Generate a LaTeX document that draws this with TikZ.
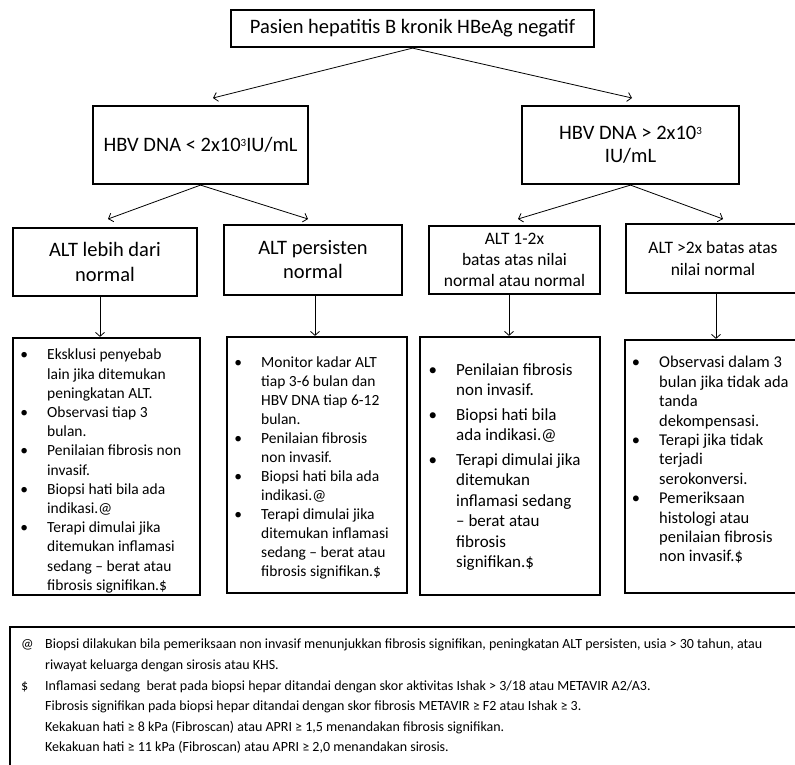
\documentclass[tikz,border=0pt]{standalone}
\usepackage{fontspec}
\setmainfont{Carlito}
\usetikzlibrary{arrows.meta}
\newcommand\itm{\llap{\textbullet\hspace{19pt}}}
\newcommand\ftm[1]{\llap{\makebox[24pt][l]{#1}}}
\newcommand\supthree{\raisebox{0.55ex}{\fontsize{11}{11}\selectfont 3}}
\begin{document}
\begin{tikzpicture}[x=1pt,y=-1pt,
  box/.style={draw, line width=2.2pt, inner sep=0pt, align=center, fill=white},
  arr/.style={-{Straight Barb[length=4pt,width=9pt]}, line width=0.8pt},
  bigtxt/.style={font=\fontsize{20.5}{25}\selectfont},
  list/.style={anchor=west, align=left, inner sep=0pt}
]
\useasboundingbox (0,0) rectangle (795,764);
\fill[white] (0,0) rectangle (795,764);

% level 1
\node[box, bigtxt, minimum width=363pt, minimum height=37pt] (top) at (412.5,28.5) {Pasien hepatitis B kronik HBeAg negatif};

% level 2
\node[box, bigtxt, minimum width=215pt, minimum height=78pt] (hbvL) at (200.5,145) {HBV DNA < 2x10\supthree IU/mL};
\node[box, font=\fontsize{20.5}{23}\selectfont, minimum width=217pt, minimum height=78pt] (hbvR) at (630.5,145) {HBV DNA > 2x10\supthree\\IU/mL};

% level 3
\node[box, bigtxt, minimum width=184pt, minimum height=68pt] (altA) at (105,262) {ALT lebih dari\\normal};
\node[box, font=\fontsize{20.5}{24}\selectfont, minimum width=178pt, minimum height=70pt] (altB) at (313,260) {ALT persisten\\normal};
\node[box, font=\fontsize{17.5}{21}\selectfont, minimum width=171pt, minimum height=68pt] (altC) at (514.5,260) {ALT 1-2x\\batas atas nilai\\normal atau normal};
\node[box, font=\fontsize{17.5}{22}\selectfont, minimum width=174pt, minimum height=69pt] (altD) at (713,258.5) {ALT >2x batas atas\\nilai normal};

% level 4 boxes
\node[box, minimum width=187pt, minimum height=257pt] (bA) at (106.5,466.5) {};
\node[box, minimum width=180pt, minimum height=256pt] (bB) at (317,465) {};
\node[box, minimum width=180pt, minimum height=258pt] (bC) at (510,466) {};
\node[box, minimum width=175pt, minimum height=253pt] (bD) at (712.5,466.5) {};

\node[list, font=\fontsize{15.5}{19.2}\selectfont] (tA) at (47,471) {\itm Eksklusi penyebab\\ lain jika ditemukan\\ peningkatan ALT.\\ \itm Observasi tiap 3\\ bulan.\\ \itm Penilaian fibrosis non\\ invasif.\\ \itm Biopsi hati bila ada\\ indikasi.@\\ \itm Terapi dimulai jika\\ ditemukan inflamasi\\ sedang – berat atau\\ fibrosis signifikan.\$};

\node[list, font=\fontsize{15.5}{19}\selectfont] (tB) at (261,467.5) {\itm Monitor kadar ALT\\ tiap 3-6 bulan dan\\ HBV DNA tiap 6-12\\ bulan.\\ \itm Penilaian fibrosis\\ non invasif.\\ \itm Biopsi hati bila ada\\ indikasi.@\\ \itm Terapi dimulai jika\\ ditemukan inflamasi\\ sedang – berat atau\\ fibrosis signifikan.\$};

\node[list, font=\fontsize{17}{20.5}\selectfont] (tC) at (456,467) {\itm Penilaian fibrosis\\ non invasif.\\[4pt] \itm Biopsi hati bila\\ ada indikasi.@\\[4pt] \itm Terapi dimulai jika\\ ditemukan\\ inflamasi sedang\\ – berat atau\\ fibrosis\\ signifikan.\$};

\node[list, font=\fontsize{16.5}{19.4}\selectfont] (tD) at (659,460) {\itm Observasi dalam 3\\ bulan jika tidak ada\\ tanda\\ dekompensasi.\\ \itm Terapi jika tidak\\ terjadi\\ serokonversi.\\ \itm Pemeriksaan\\ histologi atau\\ penilaian fibrosis\\ non invasif.\$};

% footnote
\node[box, anchor=north west, minimum width=801pt, minimum height=170pt] (fn) at (9,626) {};
\node[list, font=\fontsize{14}{20.6}\selectfont] (fnt) at (45,696.5) {\ftm{@}Biopsi dilakukan bila pemeriksaan non invasif menunjukkan fibrosis signifikan, peningkatan ALT persisten, usia > 30 tahun, atau\\ riwayat keluarga dengan sirosis atau KHS.\\ \ftm{\$}Inflamasi sedang\ \ berat pada biopsi hepar ditandai dengan skor aktivitas Ishak > 3/18 atau METAVIR A2/A3.\\ Fibrosis signifikan pada biopsi hepar ditandai dengan skor fibrosis METAVIR ≥ F2 atau Ishak ≥ 3.\\ Kekakuan hati ≥ 8 kPa (Fibroscan) atau APRI ≥ 1,5 menandakan fibrosis signifikan.\\ Kekakuan hati ≥ 11 kPa (Fibroscan) atau APRI ≥ 2,0 menandakan sirosis.};

% connectors
\coordinate (t1) at (213,98);
\coordinate (t2) at (632,98);
\coordinate (l1) at (108,219);
\coordinate (l2) at (308,219);
\coordinate (r1) at (518,219);
\coordinate (r2) at (723,219);
\draw[arr] (top.south) -- (t1);
\draw[arr] (top.south) -- (t2);
\draw[arr] (hbvL.south) -- (l1);
\draw[arr] (hbvL.south) -- (l2);
\draw[arr] (hbvR.south) -- (r1);
\draw[arr] (hbvR.south) -- (r2);

\coordinate (vA) at (100,0);
\coordinate (vB) at (315,0);
\coordinate (vC) at (509,0);
\coordinate (vD) at (716,0);
\draw[arr] (altA.south -| vA) -- (bA.north -| vA);
\draw[arr] (altB.south -| vB) -- (bB.north -| vB);
\draw[arr] (altC.south -| vC) -- (bC.north -| vC);
\draw[arr] (altD.south -| vD) -- (bD.north -| vD);
\end{tikzpicture}
\end{document}
